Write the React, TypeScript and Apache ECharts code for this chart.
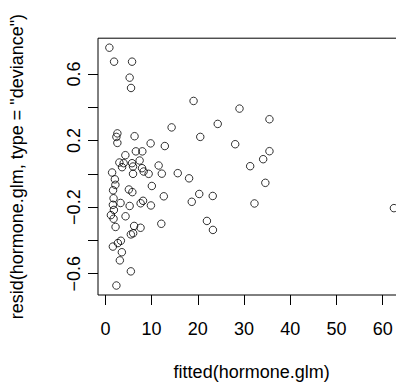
import React, { useEffect, useRef } from "react";
import * as echarts from "echarts";

const fittedValues = [
  0.86, 1.88, 5.77, 5.25, 5.55, 19.08, 29.02, 35.5, 24.31, 14.33,
  2.59, 2.38, 2.59, 6.31, 9.79, 20.53, 12.86, 28.09, 35.5, 34.14,
  31.33, 34.61, 32.26, 20.31, 18.69, 23.23, 21.97, 23.27, 62.44, 15.66,
  18.11, 12.21, 12.64, 12.1, 4.32, 6.59, 7.99, 3.02, 3.95, 5.77,
  7.41, 3.61, 5.98, 7.93, 11.52, 1.45, 5.98, 8.28, 9.36, 2.05,
  2.16, 10.05, 1.66, 5.08, 5.83, 1.77, 3.28, 1.62, 5.25, 7.63,
  8.15, 9.85, 1.84, 1.19, 1.77, 4.36, 2.2, 6.22, 7.61, 5.51,
  6.01, 3.35, 2.7, 1.62, 3.56, 3.13, 5.51, 2.38,
];

const devianceResiduals = [
  0.758, 0.674, 0.674, 0.578, 0.516, 0.438, 0.392, 0.328, 0.3, 0.279,
  0.243, 0.222, 0.186, 0.226, 0.183, 0.222, 0.167, 0.178, 0.136, 0.088,
  0.046, -0.054, -0.178, -0.121, -0.168, -0.133, -0.283, -0.337, -0.206, 0.004,
  -0.027, 0.001, -0.135, -0.3, 0.112, 0.135, 0.135, 0.068, 0.064, 0.064,
  0.08, 0.04, 0.044, 0.034, 0.05, 0.008, 0.0, 0.014, 0.0, -0.033,
  -0.066, -0.073, -0.099, -0.094, -0.11, -0.147, -0.175, -0.186, -0.193, -0.177,
  -0.162, -0.19, -0.217, -0.248, -0.27, -0.255, -0.319, -0.313, -0.324, -0.364,
  -0.357, -0.402, -0.416, -0.437, -0.471, -0.52, -0.586, -0.671,
];

const xTicks = [0, 10, 20, 30, 40, 50, 60];
const yTicks = [-0.6, -0.4, -0.2, 0, 0.2, 0.4, 0.6];
const yTickLabels = [-0.6, -0.2, 0.2, 0.6];

const FONT = '"Liberation Sans", Arial, Helvetica, sans-serif';

export default function App() {
  const ref = useRef<HTMLDivElement>(null);

  useEffect(() => {
    if (!ref.current) return;
    const chart = echarts.init(ref.current, null, { renderer: "svg" });
    const data = fittedValues.map((x, i) => [x, devianceResiduals[i]]);
    chart.setOption({
      animation: false,
      backgroundColor: "#ffffff",
      grid: {
        left: 97.5,
        top: 38.2,
        right: 14.7,
        bottom: 90.7,
        show: true,
        borderColor: "#000",
        borderWidth: 1,
        backgroundColor: "transparent",
      },
      xAxis: {
        type: "value",
        min: -1.6,
        max: 64.9,
        name: "fitted(hormone.glm)",
        nameLocation: "middle",
        nameGap: 68,
        nameTextStyle: { fontFamily: FONT, fontSize: 18, color: "#000" },
        axisLine: { show: false, onZero: false },
        splitLine: { show: false },
        axisTick: {
          show: true,
          length: 10,
          lineStyle: { color: "#000", width: 1 },
          customValues: xTicks,
        },
        axisLabel: {
          show: true,
          margin: 25,
          fontFamily: FONT,
          fontSize: 18,
          color: "#000",
          customValues: xTicks,
          formatter: (v: number) => String(v),
        },
      },
      yAxis: {
        type: "value",
        min: -0.728,
        max: 0.815,
        name: 'resid(hormone.glm, type = "deviance")',
        nameLocation: "middle",
        nameGap: 72,
        nameRotate: 90,
        nameTextStyle: { fontFamily: FONT, fontSize: 18, color: "#000" },
        axisLine: { show: false, onZero: false },
        splitLine: { show: false },
        axisTick: {
          show: true,
          length: 10,
          lineStyle: { color: "#000", width: 1 },
          customValues: yTicks,
        },
        axisLabel: {
          show: true,
          rotate: 90,
          margin: 15,
          fontFamily: FONT,
          fontSize: 18,
          color: "#000",
          customValues: yTickLabels,
          formatter: (v: number) => {
            const s = (Math.round(v * 10) / 10).toFixed(1);
            return s.replace("-", "\u2212");
          },
        },
      },
      series: [
        {
          type: "scatter",
          data,
          symbol: "circle",
          symbolSize: 7.5,
          clip: true,
          itemStyle: {
            color: "transparent",
            borderColor: "#000",
            borderWidth: 1,
          },
          emphasis: { disabled: true },
        },
      ],
    });
    return () => chart.dispose();
  }, []);

  return (
    <div
      style={{
        position: "absolute",
        left: 0,
        top: 0,
        width: 396,
        height: 386,
        overflow: "hidden",
        background: "#fff",
      }}
    >
      <div ref={ref} style={{ width: 420, height: 386 }} />
    </div>
  );
}
